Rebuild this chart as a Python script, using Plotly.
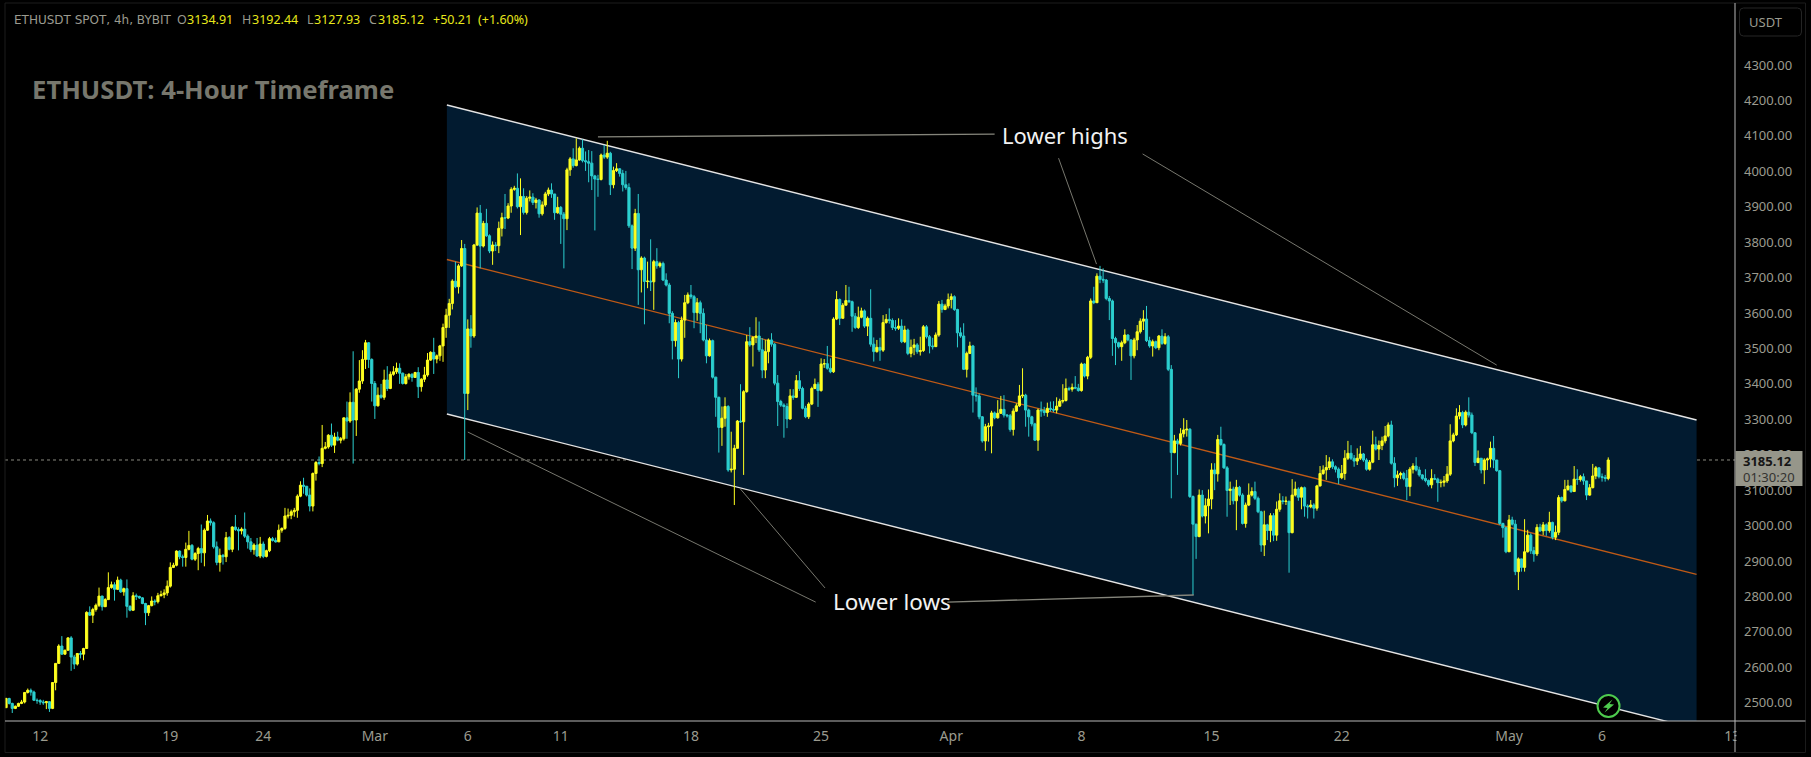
import pandas as pd
import plotly.graph_objects as go

W, H = 1811, 757
ML, MR, MT, MB = 5, 75.5, 3, 36
first_candle = "2024-02-10 04:00"
first_open = 2486
closes = [
2512,2498,2484,2490,2498,2502,2529,2535,2530,2507,
2506,2502,2500,2503,2484,2557,2611,2660,2637,2648,
2683,2629,2609,2639,2637,2653,2755,2747,2763,2775,
2801,2771,2791,2825,2833,2820,2846,2813,2822,2772,
2761,2802,2800,2796,2780,2754,2774,2787,2785,2802,
2805,2810,2829,2882,2888,2928,2912,2910,2933,2944,
2905,2921,2935,2923,2987,3013,3008,2940,2896,2916,
2912,2966,2933,2996,2989,2985,2990,2970,2954,2932,
2945,2914,2948,2913,2929,2963,2958,2954,2987,2992,
3027,3029,3039,3043,3083,3114,3111,3086,3055,3147,
3178,3175,3218,3222,3255,3227,3250,3241,3245,3304,
3295,3348,3298,3385,3408,3469,3516,3469,3401,3338,
3368,3362,3411,3387,3427,3434,3444,3430,3401,3420,
3427,3418,3432,3392,3413,3425,3467,3489,3470,3479,
3507,3559,3594,3627,3690,3674,3733,3782,3373,3555,
3535,3792,3882,3789,3853,3818,3775,3792,3790,3839,
3869,3868,3902,3949,3952,3900,3929,3884,3924,3927,
3912,3919,3880,3905,3936,3947,3936,3883,3898,3879,
3866,4004,4035,4016,4032,4065,4030,4027,4023,3987,
3978,3977,4046,4040,4051,3962,4002,4007,3994,3962,
3954,3846,3783,3881,3722,3755,3689,3690,3688,3745,
3733,3740,3693,3679,3599,3522,3573,3470,3580,3629,
3651,3646,3601,3629,3599,3524,3479,3522,3419,3362,
3277,3303,3336,3157,3159,3218,3295,3293,3378,3519,
3510,3531,3535,3496,3439,3491,3524,3512,3402,3350,
3340,3336,3301,3366,3362,3409,3387,3331,3307,3343,
3387,3399,3381,3456,3457,3444,3434,3583,3638,3585,
3622,3635,3632,3591,3559,3588,3606,3563,3585,3512,
3491,3503,3495,3573,3582,3579,3559,3557,3563,3519,
3552,3486,3503,3510,3491,3494,3561,3533,3507,3505,
3538,3625,3610,3620,3638,3646,3610,3544,3535,3441,
3486,3507,3368,3366,3307,3239,3279,3281,3318,3304,
3317,3328,3312,3310,3271,3323,3338,3366,3368,3326,
3307,3287,3241,3326,3324,3319,3331,3328,3326,3337,
3351,3353,3387,3385,3390,3388,3381,3456,3422,3475,
3634,3629,3704,3695,3693,3641,3634,3528,3516,3505,
3516,3538,3524,3479,3524,3547,3577,3583,3522,3507,
3519,3502,3535,3514,3533,3441,3206,3239,3232,3259,
3270,3272,3082,3004,2969,3086,3027,3056,3075,3157,
3146,3243,3229,3163,3099,3103,3070,3108,3086,3006,
3058,3086,3096,3077,3039,2945,3002,2986,3028,2973,
3046,3070,3068,3069,2980,3086,3103,3080,3107,3055,
3053,3058,3049,3112,3147,3157,3164,3180,3166,3159,
3135,3147,3190,3204,3190,3182,3190,3202,3185,3159,
3179,3228,3216,3226,3239,3253,3284,3176,3135,3143,
3147,3133,3110,3159,3168,3157,3143,3133,3127,3115,
3133,3131,3121,3122,3126,3145,3239,3256,3309,3319,
3284,3320,3312,3262,3178,3190,3157,3185,3188,3218,
3185,3155,3006,2994,2926,3016,3004,2870,2906,2882,
2926,2973,2929,2920,2995,2985,3002,2986,3009,2967,
2981,3079,3070,3102,3112,3096,3131,3130,3138,3126,
3086,3107,3140,3163,3138,3136,3133,3185.12]
highs = [
2514,2514,2500,2492,2500,2508,2530,2540,2540,2534,
2512,2510,2508,2505,2504,2558,2612,2665,2688,2650,
2685,2688,2635,2640,2646,2655,2758,2772,2768,2780,
2825,2802,2795,2868,2842,2840,2856,2850,2825,2848,
2775,2812,2808,2802,2798,2782,2776,2800,2792,2810,
2816,2820,2845,2896,2895,2930,2930,2918,2952,2985,
2948,2925,2940,3003,2992,3030,3020,3012,2955,2935,
2920,2982,2970,2998,3030,2995,2995,3037,2975,2965,
2950,2965,2968,2955,2932,2968,2968,2966,3003,2995,
3050,3048,3045,3050,3088,3125,3135,3112,3105,3150,
3182,3195,3284,3236,3258,3288,3262,3265,3250,3305,
3350,3376,3492,3388,3467,3495,3524,3518,3472,3408,
3390,3400,3440,3450,3435,3450,3460,3458,3432,3428,
3430,3430,3434,3447,3416,3448,3487,3492,3530,3483,
3510,3570,3612,3640,3695,3745,3738,3806,3795,3582,
3594,3795,3898,3905,3860,3894,3822,3802,3800,3858,
3883,3936,3910,3955,3959,3994,3980,3952,3930,3946,
3938,3925,3921,3915,3942,3954,3966,3933,3928,3902,
3885,4010,4040,4065,4093,4070,4090,4056,4060,4057,
3990,3990,4050,4074,4086,4055,4013,4023,4009,4004,
4001,3966,3850,3894,3936,3760,3759,3745,3808,3750,
3783,3745,3745,3712,3685,3605,3582,3578,3590,3651,
3658,3679,3651,3642,3635,3613,3566,3528,3525,3420,
3364,3336,3362,3340,3265,3228,3298,3399,3382,3538,
3560,3535,3588,3576,3529,3524,3528,3543,3515,3425,
3355,3345,3345,3385,3385,3425,3436,3392,3338,3348,
3392,3415,3405,3472,3470,3507,3472,3588,3662,3641,
3628,3679,3674,3635,3600,3618,3615,3610,3590,3667,
3531,3524,3530,3594,3597,3613,3585,3580,3585,3582,
3564,3556,3525,3527,3515,3533,3566,3566,3538,3530,
3545,3634,3637,3626,3655,3655,3650,3612,3559,3571,
3491,3519,3510,3390,3373,3309,3287,3290,3324,3322,
3354,3366,3368,3315,3315,3331,3345,3397,3444,3372,
3330,3310,3290,3330,3350,3335,3347,3350,3351,3362,
3358,3399,3415,3392,3401,3422,3400,3460,3458,3479,
3641,3674,3712,3733,3726,3696,3648,3638,3533,3519,
3522,3554,3540,3526,3530,3566,3585,3608,3620,3533,
3525,3522,3538,3554,3543,3538,3453,3256,3245,3275,
3303,3298,3275,3085,3005,3102,3100,3077,3102,3176,
3176,3256,3279,3232,3168,3124,3110,3129,3112,3091,
3065,3119,3108,3124,3082,3042,3042,3005,3035,3035,
3068,3091,3083,3082,3068,3131,3124,3108,3110,3110,
3060,3072,3063,3115,3168,3170,3199,3193,3187,3170,
3164,3171,3213,3239,3227,3199,3218,3225,3205,3190,
3185,3268,3251,3240,3251,3281,3291,3296,3193,3155,
3152,3152,3157,3165,3176,3193,3166,3145,3159,3130,
3159,3145,3135,3130,3140,3168,3286,3262,3331,3340,
3324,3325,3362,3319,3264,3212,3190,3190,3192,3237,
3253,3185,3157,3008,2997,3030,3025,3016,2910,2905,
3018,2988,2978,2940,3004,3005,3010,3006,3039,3011,
3000,3086,3082,3129,3129,3112,3168,3159,3143,3147,
3119,3117,3174,3168,3164,3147,3143,3192.44]
lows = [
2485,2495,2471,2482,2488,2496,2498,2526,2520,2505,
2497,2494,2494,2482,2474,2482,2535,2611,2635,2636,
2648,2590,2595,2605,2625,2620,2652,2745,2725,2757,
2770,2760,2770,2790,2822,2788,2818,2810,2802,2740,
2758,2760,2790,2793,2778,2719,2745,2772,2775,2780,
2800,2795,2802,2825,2880,2885,2905,2884,2884,2930,
2902,2900,2874,2895,2885,2985,3000,2935,2888,2870,
2890,2897,2930,2925,2985,2930,2975,2965,2935,2925,
2918,2912,2908,2908,2910,2925,2955,2952,2954,2980,
2988,3020,3018,3025,3022,3080,3090,3082,3040,3040,
3127,3170,3165,3215,3217,3222,3205,3238,3232,3240,
3245,3290,3175,3253,3375,3400,3442,3445,3350,3301,
3336,3358,3355,3380,3385,3423,3428,3400,3398,3398,
3412,3406,3417,3360,3378,3405,3420,3465,3428,3458,
3465,3462,3530,3558,3610,3670,3655,3730,3185,3326,
3502,3530,3789,3726,3785,3815,3769,3736,3775,3769,
3816,3837,3865,3883,3945,3895,3820,3878,3878,3915,
3905,3895,3869,3875,3900,3930,3925,3863,3880,3795,
3726,3834,3987,4010,4014,4030,4025,4001,3969,3947,
3833,3928,3974,4035,4035,3933,3952,3998,3985,3943,
3948,3840,3724,3775,3623,3658,3568,3670,3662,3609,
3725,3728,3690,3675,3571,3469,3505,3416,3463,3530,
3625,3640,3557,3578,3543,3520,3458,3477,3415,3307,
3206,3225,3279,3152,3150,3058,3218,3290,3143,3375,
3505,3449,3515,3490,3416,3416,3458,3505,3396,3281,
3335,3248,3275,3298,3355,3360,3380,3328,3303,3301,
3340,3385,3335,3378,3445,3440,3430,3431,3580,3566,
3591,3622,3628,3547,3555,3555,3585,3558,3535,3505,
3463,3488,3465,3490,3570,3570,3552,3550,3552,3515,
3515,3481,3475,3481,3485,3480,3490,3528,3486,3497,
3504,3533,3601,3608,3613,3613,3606,3503,3530,3439,
3418,3484,3319,3350,3300,3234,3211,3237,3204,3300,
3302,3315,3305,3305,3265,3254,3321,3335,3360,3279,
3251,3280,3239,3211,3307,3310,3307,3322,3320,3317,
3335,3345,3350,3380,3378,3385,3378,3378,3418,3413,
3470,3625,3629,3684,3685,3636,3580,3479,3453,3500,
3465,3512,3520,3411,3472,3495,3542,3552,3518,3502,
3477,3498,3495,3510,3510,3436,3077,3204,3143,3226,
3249,3251,3078,2804,2906,2967,3023,3006,2978,3046,
3100,3124,3225,3160,3025,3058,3060,2987,3082,3003,
2994,3055,3082,3072,3035,2926,2914,2959,2953,2956,
2957,3039,3060,3058,2867,2978,3082,3070,3046,3025,
3020,3049,3020,3042,3110,3143,3129,3157,3160,3150,
3117,3131,3129,3185,3185,3166,3171,3185,3180,3155,
3155,3176,3212,3185,3213,3232,3249,3172,3108,3112,
3131,3128,3072,3083,3147,3153,3138,3128,3122,3110,
3105,3128,3067,3108,3110,3120,3140,3235,3253,3300,
3275,3280,3305,3258,3168,3176,3147,3117,3157,3164,
3162,3152,3002,2966,2922,2926,3000,2860,2818,2870,
2870,2924,2920,2898,2914,2982,2973,2971,2980,2961,
2959,2973,3065,3068,3098,3092,3096,3115,3124,3115,
3072,3084,3105,3131,3133,3124,3124,3127.93]
assert len(closes) == len(highs) == len(lows) == 518

last_price = 3185.12
price_ticks = [2500 + 100 * k for k in range(19)]
date_ticks = ["2024-02-12", "2024-02-19", "2024-02-24", "2024-03-01", "2024-03-06", "2024-03-11",
              "2024-03-18", "2024-03-25", "2024-04-01", "2024-04-08", "2024-04-15", "2024-04-22",
              "2024-05-01", "2024-05-06", "2024-05-13"]
date_labels = ["12", "19", "24", "Mar", "6", "11", "18", "25", "Apr", "8", "15", "22", "May", "6", "13"]
x_range = ["2024-02-10 02:38", "2024-05-13 03:36"]
y_range = [2448.4, 4475]

channel_dates = ["2024-03-04 21:00", "2024-05-11 02:00"]
channel_upper = [4187, 3298]
channel_mid = [3751, 2862]
channel_lower = [3315, 2426]

callouts = [
    (("2024-03-13 00:00", 4097), ("2024-04-03 08:00", 4105), 1.4),
    (("2024-04-06 18:30", 4037), ("2024-04-08 19:30", 3738), 0.9),
    (("2024-04-11 07:00", 4049), ("2024-04-30 08:00", 3453), 0.9),
    (("2024-03-06 00:00", 3264), ("2024-03-24 17:00", 2784), 0.9),
    (("2024-03-20 16:00", 3103), ("2024-03-25 05:00", 2824), 0.9),
    (("2024-03-31 19:00", 2784), ("2024-04-14 01:00", 2804), 1.4),
]

GREY = "#9b9b8f"
YEL = "#ffff1f"
CYA = "#2ccfcf"
NAVY = "#021b30"


def fx(px):
    return (px - ML) / (W - ML - MR)


def fy(py):
    return 1 - (py - MT) / (H - MT - MB)


opens = [first_open] + closes[:-1]
times = pd.date_range(first_candle, periods=len(closes), freq="4h")

fig = go.Figure(go.Candlestick(
    x=times, open=opens, high=highs, low=lows, close=closes,
    increasing=dict(line=dict(color=YEL, width=1), fillcolor=YEL),
    decreasing=dict(line=dict(color=CYA, width=1), fillcolor=CYA),
    hoverinfo="skip", showlegend=False,
))

shapes = []
d0, d1 = [d.replace(" ", "_") for d in channel_dates]
shapes.append(dict(type="path", layer="below", xref="x", yref="y", line=dict(width=0), fillcolor=NAVY,
                   path=f"M {d0},{channel_upper[0]} L {d1},{channel_upper[1]} L {d1},{channel_lower[1]} L {d0},{channel_lower[0]} Z"))
for vals, col, wd in [(channel_upper, "#e4e4e4", 1.4), (channel_lower, "#e4e4e4", 1.4), (channel_mid, "#bf5a16", 1.3)]:
    shapes.append(dict(type="line", layer="below", xref="x", yref="y", x0=channel_dates[0], x1=channel_dates[1],
                       y0=vals[0], y1=vals[1], line=dict(color=col, width=wd)))
shapes.append(dict(type="line", layer="below", xref="paper", yref="y", x0=0, x1=1, y0=last_price, y1=last_price,
                   line=dict(color="#8a8a80", width=1, dash="dot")))
for a, b, wd in callouts:
    shapes.append(dict(type="line", xref="x", yref="y", x0=a[0], y0=a[1], x1=b[0], y1=b[1],
                       line=dict(color="#85857b", width=wd)))


def rect(x0, y0, x1, y1, **kw):
    shapes.append(dict(type="rect", xref="paper", yref="paper", x0=fx(x0), x1=fx(x1), y0=fy(y0), y1=fy(y1), **kw))


def seg(x0, y0, x1, y1, col, wd=1):
    shapes.append(dict(type="line", xref="paper", yref="paper", x0=fx(x0), x1=fx(x1), y0=fy(y0), y1=fy(y1),
                       line=dict(color=col, width=wd)))


def poly(points, **kw):
    p = "M " + " L ".join(f"{fx(a):.5f},{fy(b):.5f}" for a, b in points) + " Z"
    shapes.append(dict(type="path", xref="paper", yref="paper", path=p, **kw))


rect(1737, 722, 1762, 752, fillcolor="#000000", line=dict(width=0))
rect(5, 3, 1806, 752.5, line=dict(color="#1c1c1c", width=1))
seg(5, 721, 1806, 721, "#b8b8b8", 1)
seg(1735.5, 3, 1735.5, 752, "#b8b8b8", 1)
# USDT badge
shapes.append(dict(type="path", xref="paper", yref="paper", line=dict(color="#262626", width=1),
                   path=f"M {fx(1744)},{fy(8)} L {fx(1798)},{fy(8)} Q {fx(1802)},{fy(8)} {fx(1802)},{fy(12)} "
                        f"L {fx(1802)},{fy(32)} Q {fx(1802)},{fy(36)} {fx(1798)},{fy(36)} L {fx(1744)},{fy(36)} "
                        f"Q {fx(1740)},{fy(36)} {fx(1740)},{fy(32)} L {fx(1740)},{fy(12)} Q {fx(1740)},{fy(8)} {fx(1744)},{fy(8)} Z"))
# last-price badge
rect(1736, 451, 1803, 486, fillcolor="#96968a", line=dict(width=0))
# bolt icon
shapes.append(dict(type="circle", xref="paper", yref="paper", x0=fx(1598), x1=fx(1620), y0=fy(695), y1=fy(717),
                   fillcolor="#000000", line=dict(color="#4ecb4e", width=2)))
poly([(1613, 699.5), (1603.5, 707.5), (1608, 708), (1605, 712.5), (1614.5, 704.5), (1610, 704)],
     fillcolor="#4ecb4e", line=dict(width=0))

ann = []


def txt(px, py, s, col, size, anchor="left", bold=False, family="Noto Sans"):
    ann.append(dict(xref="paper", yref="paper", x=fx(px), y=fy(py), text=f"<b>{s}</b>" if bold else s, showarrow=False,
                    xanchor=anchor, yanchor="middle", font=dict(color=col, size=size, family=family)))


txt(12, 20, "ETHUSDT SPOT, 4h, BYBIT", GREY, 12, family="DejaVu Sans")
for px_, s, c in [(175, "O", GREY), (185, "3134.91", "#e8e81a"),
                  (240, "H", GREY), (250, "3192.44", "#e8e81a"), (305, "L", GREY), (312, "3127.93", "#e8e81a"),
                  (367, "C", GREY), (376, "3185.12", "#e8e81a"), (431, "+50.21", "#e8e81a"), (476, "(+1.60%)", "#e8e81a")]:
    txt(px_, 20, s, c, 12.5)
txt(30, 90, "ETHUSDT: 4-Hour Timeframe", "#77776d", 25.7, bold=True)
txt(1000, 135, "Lower highs", "#f2f2f2", 22)
txt(831, 601, "Lower lows", "#f2f2f2", 22.5)
txt(1748, 22, "USDT", GREY, 13)
txt(1742, 461, "3185.12", "#161616", 13, bold=True)
txt(1742, 477, "01:30:20", "#333330", 13)

fig.update_layout(
    width=W, height=H, autosize=False,
    margin=dict(l=ML, r=MR, t=MT, b=MB, pad=0),
    paper_bgcolor="#000000", plot_bgcolor="#000000",
    showlegend=False, hovermode=False, shapes=shapes, annotations=ann, boxgap=0,
    font=dict(family="Noto Sans", color=GREY, size=13),
    xaxis=dict(type="date", range=x_range, rangeslider=dict(visible=False), showgrid=False, zeroline=False,
               tickmode="array", tickvals=date_ticks, ticktext=date_labels, ticks="", showline=False,
               tickfont=dict(color=GREY, size=14), ticklabelstandoff=5),
    yaxis=dict(side="right", range=y_range, showgrid=False, zeroline=False, tickmode="array", tickvals=price_ticks,
               tickformat=".2f", ticks="", showline=False, tickfont=dict(color=GREY, size=13), ticklabelstandoff=8),
)

fig.write_html("out.html", config=dict(displayModeBar=False),
               post_script="document.body.style.margin='0';document.body.style.background='#000';document.body.style.overflow='hidden';")
